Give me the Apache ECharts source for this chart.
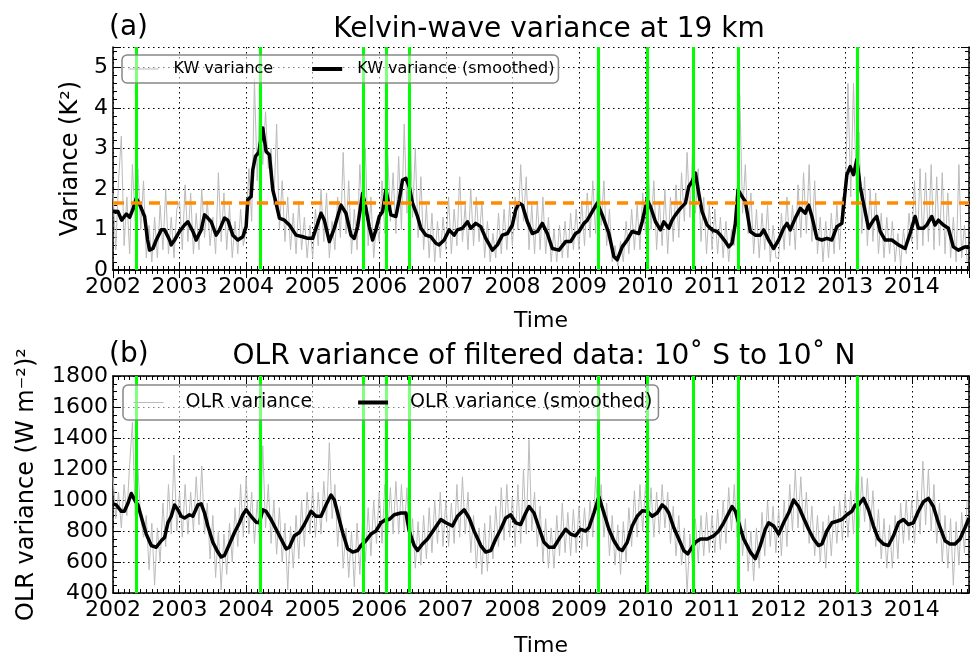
<!DOCTYPE html>
<html>
<head>
<meta charset="utf-8">
<script src="https://cdn.jsdelivr.net/npm/echarts@6/dist/echarts.min.js"></script>
<style>
  html, body { margin: 0; padding: 0; background: #fff; }
  #chart { width: 970px; height: 658px; }
</style>
</head>
<body>
<div id="chart"></div>
<script>
// x values are decimal years
const xStart = 2002;
const xEnd = 2014.86;
const rawPerYear = 24; // raw series: one value every half month from xStart

// green event lines (both panels)
const eventYears = [2002.35, 2004.215, 2005.756, 2006.105, 2006.446, 2009.285, 2010.03, 2010.72, 2011.40, 2013.185];
const kwThreshold = 1.65;

// (a) KW variance, raw (K^2)
const kwRaw = [
  1.9, 0.5, 2.2, 3.3, 0.6, 1.8, 0.4, 2.6, 1.2, 2.5, 1.0, 2.2, 0.3, 1.1, 0.2, 1.3, 0.3, 1.6, 0.5, 2.0, 0.4, 1.3, 0.3, 1.5,
  1.7, 0.5, 2.1, 0.7, 1.9, 0.4, 1.4, 0.5, 2.0, 0.8, 1.7, 0.6, 1.3, 0.4, 2.4, 0.7, 1.9, 0.5, 1.6, 0.3, 1.2, 0.4, 1.5, 0.6,
  1.0, 2.5, 1.2, 4.7, 2.2, 4.4, 2.6, 3.9, 2.5, 3.0, 1.6, 3.6, 1.0, 2.2, 0.7, 1.8, 0.5, 1.4, 0.4, 1.7, 0.5, 1.3, 0.3, 1.1,
  0.3, 1.5, 0.6, 2.0, 0.7, 1.9, 0.3, 1.2, 0.5, 1.8, 0.8, 2.9, 0.9, 2.2, 0.4, 1.5, 0.5, 2.6, 1.2, 3.0, 0.6, 1.8, 0.3, 1.2,
  0.7, 2.2, 0.9, 3.0, 1.2, 2.4, 0.9, 2.8, 1.0, 3.6, 1.4, 4.0, 1.3, 3.0, 0.8, 2.3, 0.5, 1.6, 0.3, 1.4, 0.2, 1.2, 0.3, 1.3,
  0.5, 1.8, 0.4, 1.5, 0.6, 2.3, 0.7, 1.6, 0.5, 2.0, 0.6, 1.8, 0.7, 1.7, 0.3, 1.2, 0.2, 0.9, 0.3, 1.4, 0.4, 1.5, 0.5, 1.6,
  0.6, 1.8, 1.0, 2.6, 1.2, 2.3, 0.5, 1.6, 0.4, 1.7, 0.5, 1.8, 0.4, 1.3, 0.2, 1.0, 0.2, 1.1, 0.3, 1.2, 0.3, 1.4, 0.5, 1.5,
  0.5, 1.7, 0.6, 1.9, 0.8, 2.2, 0.9, 2.8, 1.1, 2.2, 0.6, 1.5, 0.2, 0.6, 0.1, 0.7, 0.2, 1.2, 0.4, 1.5, 0.5, 1.6, 0.5, 1.9,
  0.9, 2.6, 1.0, 2.2, 0.5, 1.7, 0.6, 2.0, 0.4, 1.8, 0.7, 2.1, 0.8, 2.4, 1.2, 2.9, 1.3, 3.0, 1.4, 2.5, 0.7, 1.8, 0.4, 1.6,
  0.5, 1.5, 0.4, 1.3, 0.3, 1.2, 0.2, 1.0, 0.6, 1.8, 4.3, 1.4, 2.6, 0.9, 1.9, 0.4, 1.5, 0.3, 1.4, 0.5, 1.6, 0.2, 1.1, 0.3,
  0.3, 1.4, 0.5, 1.8, 0.6, 1.6, 0.5, 2.1, 0.8, 2.4, 0.9, 2.6, 0.7, 2.2, 0.4, 1.3, 0.2, 1.2, 0.3, 1.4, 0.4, 1.6, 0.5, 1.8,
  1.6, 4.6, 1.8, 4.6, 2.0, 3.4, 0.9, 2.3, 0.6, 2.0, 0.7, 1.9, 0.4, 1.4, 0.3, 1.3, 0.4, 1.2, 0.2, 0.9, 0.1, 1.0, 0.4, 1.4,
  0.7, 2.2, 0.5, 2.5, 0.6, 2.4, 0.7, 2.6, 0.5, 2.3, 0.6, 2.4, 0.4, 1.9, 0.3, 1.3, 0.2, 2.6, 0.3, 1.1, 0.2
];

// (a) KW variance, smoothed
const kwSmoothT = [
  2002.0, 2002.075, 2002.13, 2002.2, 2002.25, 2002.3, 2002.35, 2002.4, 2002.475, 2002.52, 2002.55, 2002.6, 2002.65, 2002.725, 2002.775, 2002.85, 2002.875, 2002.925,
  2003.0, 2003.075, 2003.125, 2003.2, 2003.25, 2003.325, 2003.375, 2003.425, 2003.475, 2003.55, 2003.6, 2003.675, 2003.725, 2003.8, 2003.875, 2003.95,
  2004.0, 2004.025, 2004.075, 2004.1, 2004.14, 2004.19, 2004.25, 2004.3, 2004.35, 2004.4, 2004.45, 2004.5, 2004.575, 2004.65, 2004.75, 2004.85, 2004.925,
  2005.0, 2005.075, 2005.125, 2005.175, 2005.25, 2005.325, 2005.375, 2005.425, 2005.5, 2005.575, 2005.625, 2005.675, 2005.75, 2005.8, 2005.85, 2005.9, 2005.95,
  2006.0, 2006.05, 2006.1, 2006.175, 2006.25, 2006.3, 2006.35, 2006.4, 2006.45, 2006.5, 2006.575, 2006.625, 2006.7, 2006.775, 2006.85, 2006.9, 2006.975,
  2007.05, 2007.125, 2007.175, 2007.25, 2007.325, 2007.375, 2007.45, 2007.525, 2007.6, 2007.7, 2007.775, 2007.85, 2007.925,
  2008.0, 2008.05, 2008.1, 2008.15, 2008.225, 2008.3, 2008.375, 2008.45, 2008.525, 2008.6, 2008.7, 2008.8, 2008.875, 2008.95,
  2009.0, 2009.075, 2009.125, 2009.2, 2009.275, 2009.35, 2009.45, 2009.525, 2009.575, 2009.65, 2009.725, 2009.8, 2009.9, 2009.95,
  2010.025, 2010.075, 2010.15, 2010.225, 2010.275, 2010.35, 2010.4, 2010.45, 2010.525, 2010.6, 2010.65, 2010.7, 2010.75, 2010.8, 2010.85, 2010.925,
  2011.0, 2011.075, 2011.125, 2011.2, 2011.25, 2011.3, 2011.35, 2011.39, 2011.45, 2011.5, 2011.575, 2011.65, 2011.725, 2011.775, 2011.85, 2011.925,
  2012.0, 2012.075, 2012.125, 2012.175, 2012.25, 2012.325, 2012.4, 2012.45, 2012.5, 2012.575, 2012.65, 2012.725, 2012.8, 2012.875, 2012.95, 2012.975,
  2013.025, 2013.075, 2013.125, 2013.175, 2013.225, 2013.3, 2013.35, 2013.425, 2013.475, 2013.525, 2013.6, 2013.7, 2013.8, 2013.9, 2013.975,
  2014.05, 2014.1, 2014.175, 2014.225, 2014.3, 2014.35, 2014.4, 2014.475, 2014.55, 2014.625, 2014.7, 2014.8, 2014.86
];
const kwSmoothV = [
  1.45, 1.44, 1.23, 1.38, 1.30, 1.50, 1.77, 1.62, 1.32, 0.74, 0.49, 0.53, 0.74, 0.99, 0.99, 0.74, 0.62, 0.74,
  0.95, 1.11, 1.19, 0.95, 0.74, 0.99, 1.36, 1.28, 1.19, 0.86, 0.99, 1.28, 1.23, 0.86, 0.74, 0.82,
  1.07, 1.73, 1.81, 2.47, 2.80, 2.90, 3.50, 2.92, 2.84, 1.98, 1.65, 1.28, 1.23, 1.11, 0.86, 0.82, 0.78,
  0.78, 1.15, 1.40, 1.23, 0.70, 1.03, 1.32, 1.60, 1.40, 0.86, 0.78, 1.07, 1.89, 1.52, 1.07, 0.74, 0.99,
  1.32, 1.44, 1.98, 1.36, 1.32, 1.73, 2.22, 2.26, 2.06, 1.65, 1.32, 1.03, 0.86, 0.82, 0.66, 0.62, 0.74,
  0.99, 0.86, 0.99, 1.03, 1.19, 1.03, 1.15, 1.07, 0.78, 0.49, 0.62, 0.86, 0.90,
  1.11, 1.48, 1.65, 1.60, 1.19, 0.90, 0.95, 1.15, 0.90, 0.53, 0.49, 0.70, 0.70, 0.90,
  0.95, 1.15, 1.23, 1.44, 1.65, 1.36, 0.90, 0.33, 0.25, 0.57, 0.74, 0.95, 0.90, 1.19,
  1.73, 1.56, 1.19, 0.99, 1.19, 1.03, 1.23, 1.36, 1.52, 1.65, 2.06, 2.18, 2.39, 1.89, 1.44, 1.11,
  0.99, 0.95, 0.86, 0.70, 0.57, 0.66, 1.15, 1.98, 1.81, 1.69, 0.95, 0.86, 0.86, 0.99, 0.74, 0.53,
  0.74, 1.03, 1.15, 0.99, 1.28, 1.52, 1.40, 1.60, 1.32, 0.78, 0.74, 0.78, 0.74, 1.07, 1.15, 1.56,
  2.35, 2.55, 2.35, 2.72, 2.06, 1.44, 1.03, 1.23, 1.32, 0.95, 0.74, 0.74, 0.62, 0.53, 0.90,
  1.32, 1.03, 1.03, 1.11, 1.32, 1.11, 1.23, 1.11, 1.03, 0.57, 0.49, 0.57, 0.55
];

// (b) OLR variance, raw (W m-2)^2
const olrRaw = [
  1150, 880, 1050, 820, 1100, 900, 1230, 1500, 900, 1200, 880, 760, 900, 550, 850, 450, 820, 600, 980, 700, 1100, 780, 1290, 800,
  1050, 760, 1100, 780, 1050, 800, 1150, 840, 1220, 780, 980, 620, 900, 500, 800, 420, 780, 520, 850, 600, 950, 700, 1100, 760,
  1150, 780, 1050, 720, 1000, 700, 1350, 820, 1100, 720, 1000, 650, 950, 600, 850, 420, 830, 560, 900, 620, 1000, 700, 1050, 780,
  1080, 760, 1050, 780, 1120, 860, 1370, 880, 1100, 700, 960, 560, 820, 500, 800, 440, 850, 520, 880, 600, 950, 640, 1000, 720,
  1050, 720, 1100, 760, 1080, 780, 1120, 780, 1100, 800, 1080, 660, 880, 560, 860, 580, 900, 620, 950, 660, 1000, 720, 1050, 700,
  1000, 700, 980, 720, 1100, 760, 1150, 780, 1050, 660, 900, 560, 820, 520, 850, 540, 900, 620, 960, 700, 1080, 740, 1100, 760,
  1020, 700, 1100, 720, 1200, 780, 1390, 800, 1050, 700, 960, 600, 880, 560, 820, 560, 900, 640, 980, 660, 920, 640, 940, 660,
  960, 680, 950, 700, 1000, 760, 1150, 860, 1100, 760, 980, 640, 900, 580, 840, 520, 860, 600, 950, 700, 1060, 760, 1100, 800,
  1100, 800, 1080, 760, 1050, 780, 1100, 820, 1050, 720, 960, 640, 900, 580, 820, 400, 780, 560, 880, 600, 900, 640, 920, 660,
  900, 660, 940, 680, 1000, 720, 1080, 800, 1100, 760, 980, 640, 880, 540, 800, 480, 820, 560, 920, 640, 1000, 700, 960, 660,
  940, 640, 1000, 700, 1100, 800, 1200, 820, 1150, 800, 1050, 720, 960, 640, 900, 600, 860, 560, 900, 640, 960, 720, 1000, 740,
  1040, 760, 1060, 780, 1190, 820, 1150, 860, 1140, 800, 1060, 700, 940, 620, 880, 560, 840, 560, 900, 620, 980, 720, 1000, 740,
  1000, 720, 1060, 780, 1250, 840, 1200, 800, 1100, 720, 980, 600, 900, 560, 880, 450, 860, 580, 920, 660, 1000
];

// (b) OLR variance, smoothed
const olrSmoothT = [
  2002.0, 2002.05, 2002.125, 2002.17, 2002.225, 2002.275, 2002.325, 2002.375, 2002.45, 2002.5, 2002.575, 2002.65, 2002.725, 2002.775, 2002.825, 2002.875, 2002.925, 2002.975,
  2003.025, 2003.075, 2003.15, 2003.2, 2003.275, 2003.325, 2003.375, 2003.425, 2003.5, 2003.575, 2003.625, 2003.675, 2003.75, 2003.825, 2003.9, 2003.95,
  2004.0, 2004.075, 2004.15, 2004.2, 2004.25, 2004.3, 2004.375, 2004.45, 2004.525, 2004.6, 2004.65, 2004.725, 2004.8, 2004.875, 2004.975,
  2005.05, 2005.125, 2005.2, 2005.275, 2005.325, 2005.375, 2005.45, 2005.525, 2005.6, 2005.675, 2005.725, 2005.8, 2005.875, 2005.95,
  2006.025, 2006.1, 2006.15, 2006.225, 2006.325, 2006.4, 2006.45, 2006.525, 2006.575, 2006.65, 2006.725, 2006.825, 2006.925,
  2007.0, 2007.1, 2007.175, 2007.275, 2007.35, 2007.425, 2007.525, 2007.6, 2007.675, 2007.75, 2007.825, 2007.9, 2007.975,
  2008.05, 2008.125, 2008.2, 2008.25, 2008.325, 2008.4, 2008.475, 2008.55, 2008.625, 2008.7, 2008.8, 2008.875, 2008.95,
  2009.025, 2009.1, 2009.15, 2009.225, 2009.3, 2009.375, 2009.45, 2009.525, 2009.6, 2009.65, 2009.725, 2009.8, 2009.875, 2009.95,
  2010.025, 2010.1, 2010.175, 2010.25, 2010.3, 2010.35, 2010.425, 2010.5, 2010.575, 2010.635, 2010.7, 2010.75, 2010.825, 2010.925,
  2011.025, 2011.1, 2011.175, 2011.25, 2011.3, 2011.35, 2011.4, 2011.475, 2011.575, 2011.65, 2011.725, 2011.8, 2011.85, 2011.925,
  2012.0, 2012.075, 2012.15, 2012.225, 2012.3, 2012.375, 2012.45, 2012.525, 2012.6, 2012.65, 2012.725, 2012.8, 2012.875, 2012.95,
  2013.025, 2013.1, 2013.15, 2013.2, 2013.275, 2013.35, 2013.425, 2013.5, 2013.575, 2013.65, 2013.725, 2013.8, 2013.875, 2013.95,
  2014.025, 2014.1, 2014.175, 2014.25, 2014.325, 2014.4, 2014.5, 2014.575, 2014.65, 2014.725, 2014.8, 2014.86
];
const olrSmoothV = [
  975, 968, 927, 927, 979, 1042, 1000, 968, 853, 780, 706, 695, 737, 758, 853, 895, 968, 937,
  895, 884, 905, 895, 968, 975, 916, 832, 727, 664, 632, 643, 716, 790, 853, 905,
  937, 895, 857, 853, 937, 927, 874, 811, 748, 685, 695, 769, 790, 842, 927,
  895, 895, 968, 1032, 1000, 916, 790, 685, 664, 674, 706, 737, 780, 800,
  853, 874, 874, 905, 916, 916, 800, 706, 674, 716, 748, 811, 874,
  853, 832, 895, 937, 884, 800, 706, 664, 674, 748, 811, 884, 905,
  853, 842, 916, 958, 916, 821, 727, 695, 695, 748, 811, 780, 769,
  811, 800, 821, 916, 1021, 916, 811, 737, 685, 674, 727, 832, 895, 930,
  927, 895, 916, 968, 950, 916, 821, 748, 674, 653, 695, 727, 748, 748,
  769, 800, 853, 916, 958, 927, 853, 748, 664, 622, 706, 811, 853, 832,
  780, 853, 916, 1000, 958, 884, 811, 748, 706, 716, 800, 853, 863, 874,
  905, 927, 968, 968, 1010, 937, 832, 748, 716, 706, 769, 853, 874, 842,
  853, 927, 989, 1010, 958, 853, 737, 716, 716, 748, 821, 884
];

const FONT = 'DejaVu Sans';
const GRAY = '#bbbbbb';

function rawPairs(arr) {
  return arr.map((v, i) => [xStart + i / rawPerYear, v]);
}
function zipPairs(t, v) {
  return t.map((x, i) => [x, v[i]]);
}

// bottom x axis with labels, dotted year grid
function xBottom(gi, gap) {
  return {
    type: 'value', gridIndex: gi, position: 'bottom', min: xStart, max: xEnd, interval: 1,
    name: 'Time', nameLocation: 'middle', nameGap: gap,
    nameTextStyle: { fontFamily: FONT, fontSize: 22, color: '#000' },
    axisLine: { lineStyle: { color: '#000', width: 1.5 } },
    axisTick: { inside: true, length: 8, lineStyle: { color: '#000', width: 1 } },
    minorTick: { show: true, splitNumber: 12, length: 4, lineStyle: { color: '#000', width: 1 } },
    axisLabel: { fontFamily: FONT, fontSize: 22, color: '#000', margin: 6, showMaxLabel: false,
      formatter: v => Number.isInteger(v) ? String(v) : '' },
    splitLine: { show: true, lineStyle: { color: '#000', width: 1, type: [1.5, 3.5] } }
  };
}
function xTop(gi) {
  return {
    type: 'value', gridIndex: gi, position: 'top', min: xStart, max: xEnd, interval: 1,
    axisLine: { lineStyle: { color: '#000', width: 1.5 } },
    axisTick: { inside: true, length: 8, lineStyle: { color: '#000', width: 1 } },
    minorTick: { show: true, splitNumber: 12, length: 4, lineStyle: { color: '#000', width: 1 } },
    axisLabel: { show: false }, splitLine: { show: false }
  };
}
function yLeft(gi, min, max, step, minorN, name, gap) {
  return {
    type: 'value', gridIndex: gi, position: 'left', min: min, max: max, interval: step,
    name: name, nameLocation: 'middle', nameGap: gap, nameRotate: 90,
    nameTextStyle: { fontFamily: FONT, fontSize: 24, color: '#000' },
    axisLine: { show: true, lineStyle: { color: '#000', width: 1.5 } },
    axisTick: { show: true, inside: true, length: 8, lineStyle: { color: '#000', width: 1 } },
    minorTick: { show: true, splitNumber: minorN, length: 4, lineStyle: { color: '#000', width: 1 } },
    axisLabel: { fontFamily: FONT, fontSize: 22, color: '#000', margin: 5,
      formatter: v => (v - min) % step === 0 ? String(v) : '' },
    splitLine: { show: true, lineStyle: { color: '#000', width: 1, type: [1.5, 3.5] } }
  };
}
function yRight(gi, min, max, step, minorN) {
  return {
    type: 'value', gridIndex: gi, position: 'right', min: min, max: max, interval: step,
    axisLine: { show: true, lineStyle: { color: '#000', width: 1.5 } },
    axisTick: { show: true, inside: true, length: 8, lineStyle: { color: '#000', width: 1 } },
    minorTick: { show: true, splitNumber: minorN, length: 4, lineStyle: { color: '#000', width: 1 } },
    axisLabel: { show: false }, splitLine: { show: false }
  };
}
function eventLines(xi, yi) {
  return {
    type: 'line', xAxisIndex: xi, yAxisIndex: yi, data: [], z: 3,
    markLine: { silent: true, symbol: 'none', label: { show: false },
      lineStyle: { color: '#00ff00', width: 3, type: 'solid' },
      data: eventYears.map(x => ({ xAxis: x })) }
  };
}
function legendBox(left, top, size, pad, textPad, gap, rawName, smoothName) {
  return {
    left: left, top: top, z: 10, orient: 'horizontal',
    data: [
      { name: rawName, lineStyle: { color: GRAY, width: 1 } },
      { name: smoothName, lineStyle: { color: '#000', width: 4 } }
    ],
    itemWidth: 30, itemHeight: 14, itemGap: gap, padding: pad,
    itemStyle: { opacity: 0, borderWidth: 0 },
    backgroundColor: 'rgba(255,255,255,0.5)', borderColor: '#888', borderWidth: 1.5, borderRadius: 5,
    textStyle: { fontFamily: FONT, fontSize: size, color: '#000', padding: [0, 0, 0, textPad] }
  };
}

const chart = echarts.init(document.getElementById('chart'), null, { renderer: 'canvas' });
chart.setOption({
  animation: false,
  backgroundColor: '#fff',
  grid: [
    { left: 113, top: 47, width: 856, height: 223 },
    { left: 113, top: 376, width: 856, height: 222 }
  ],
  xAxis: [xBottom(0, 40), xTop(0), xBottom(1, 42), xTop(1)],
  yAxis: [
    yLeft(0, 0, 5.5, 1, 5, 'Variance (K\u00b2)', 28), yRight(0, 0, 5.5, 1, 5),
    yLeft(1, 400, 1800, 200, 4, 'OLR variance (W m\u207b\u00b2)\u00b2', 74), yRight(1, 400, 1800, 200, 4)
  ],
  legend: [
    legendBox(122, 55, 16, [6, 4, 6, 6], 10, 37, 'KW variance', 'KW variance (smoothed)'),
    legendBox(123, 385, 19, [8, 6, 8, 10], 17, 44, 'OLR variance', 'OLR variance (smoothed)')
  ],
  graphic: [
    { type: 'text', left: 109, top: 14, style: { text: '(a)', font: '28px "DejaVu Sans"', fill: '#000' } },
    { type: 'text', x: 549, y: 30, style: { text: 'Kelvin-wave variance at 19 km', font: '28px "DejaVu Sans"', fill: '#000', align: 'center', verticalAlign: 'middle' } },
    { type: 'text', left: 109, top: 341, style: { text: '(b)', font: '28px "DejaVu Sans"', fill: '#000' } },
    { type: 'text', x: 544, y: 357, style: { text: 'OLR variance of filtered data: 10\u02da S to 10\u02da N', font: '28px "DejaVu Sans"', fill: '#000', align: 'center', verticalAlign: 'middle' } }
  ],
  series: [
    { name: 'KW variance', type: 'line', xAxisIndex: 0, yAxisIndex: 0, symbol: 'none', z: 2,
      lineStyle: { color: GRAY, width: 1 }, itemStyle: { color: GRAY }, data: rawPairs(kwRaw) },
    eventLines(0, 0),
    { name: 'KW variance (smoothed)', type: 'line', xAxisIndex: 0, yAxisIndex: 0, symbol: 'none', z: 4,
      lineStyle: { color: '#000', width: 3.5, join: 'round' }, itemStyle: { color: '#000' }, data: zipPairs(kwSmoothT, kwSmoothV) },
    { type: 'line', xAxisIndex: 0, yAxisIndex: 0, data: [], z: 5,
      markLine: { silent: true, symbol: 'none', label: { show: false },
        lineStyle: { color: '#ff8c00', width: 3.5, type: [11, 7] }, data: [{ yAxis: kwThreshold }] } },

    { name: 'OLR variance', type: 'line', xAxisIndex: 2, yAxisIndex: 2, symbol: 'none', z: 2,
      lineStyle: { color: GRAY, width: 1 }, itemStyle: { color: GRAY }, data: rawPairs(olrRaw) },
    eventLines(2, 2),
    { name: 'OLR variance (smoothed)', type: 'line', xAxisIndex: 2, yAxisIndex: 2, symbol: 'none', z: 4,
      lineStyle: { color: '#000', width: 3.5, join: 'round' }, itemStyle: { color: '#000' }, data: zipPairs(olrSmoothT, olrSmoothV) }
  ]
});
</script>
</body>
</html>
